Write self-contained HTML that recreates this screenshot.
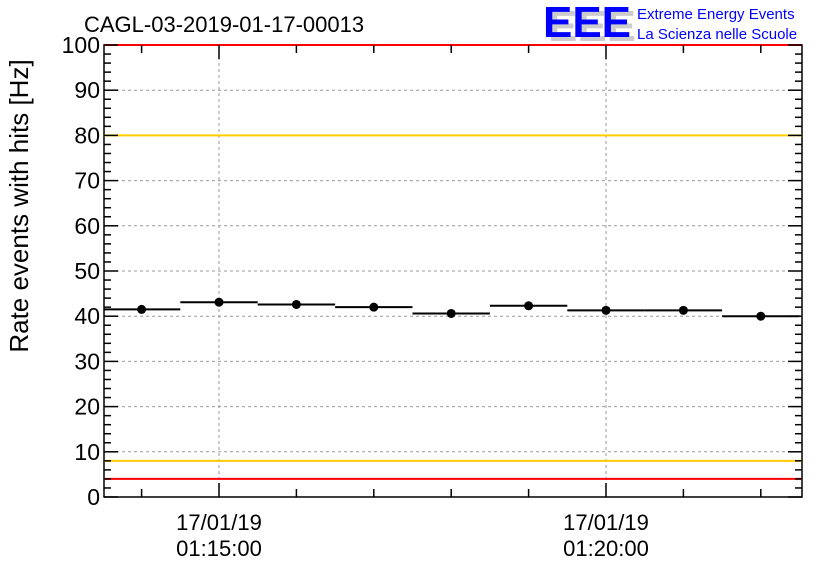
<!DOCTYPE html>
<html><head><meta charset="utf-8"><style>body{margin:0;background:#fff}svg{display:block;font-family:"Liberation Sans",sans-serif}</style></head>
<body>
<svg id="c" width="836" height="572"></svg>
<script>
const binMinutes=[-1,0,1,2,3,4,5,6,7];
const rates=[41.5,43.1,42.6,42.0,40.6,42.3,41.3,41.3,40.0];
const yTicks=[0,10,20,30,40,50,60,70,80,90,100];
const xMajorLabels=[[0,"17/01/19","01:15:00"],[5,"17/01/19","01:20:00"]];
const refLines=[[100,"#ff0000"],[80,"#ffcc00"],[8,"#ffcc00"],[4,"#ff0000"]];
const L=104,R=802,T=45,B=497;
const X=m=>219+m*77.4;
const Y=v=>B-(v/100)*(B-T);
const s=document.getElementById('c');const NS="http://www.w3.org/2000/svg";
function el(t,a,n,txt){const e=document.createElementNS(NS,t);for(const k in a)e.setAttribute(k,a[k]);if(txt)e.textContent=txt;s.appendChild(e);return e;}
// grid
yTicks.forEach(v=>{if(v>0&&v<100)el('line',{x1:L,x2:R,y1:Y(v),y2:Y(v),stroke:'#999','stroke-dasharray':'3,3','stroke-width':1},'y-gridline');});
xMajorLabels.forEach(d=>el('line',{x1:X(d[0]),x2:X(d[0]),y1:T,y2:B,stroke:'#999','stroke-dasharray':'3,3'},'x-gridline'));
// frame
el('rect',{x:L,y:T,width:R-L,height:B-T,fill:'none',stroke:'#000','stroke-width':1.5},'plot-frame');
// ref lines
refLines.forEach(r=>el('line',{x1:L,x2:R,y1:Y(r[0]),y2:Y(r[0]),stroke:r[1],'stroke-width':2},'threshold-line'));
// y ticks
for(let v=0;v<=100;v+=2){const mj=v%10==0,len=mj?14:7;
el('line',{x1:L,x2:L+len,y1:Y(v),y2:Y(v),stroke:'#000','stroke-width':1.5},'y-tick');
el('line',{x1:R-len,x2:R,y1:Y(v),y2:Y(v),stroke:'#000','stroke-width':1.5},'y-tick-right');}
yTicks.forEach(v=>el('text',{x:L-4,y:Y(v)+8,'text-anchor':'end','font-size':23},'y-tick-label',String(v)));
// x ticks
for(let m=-1;m<=7;m++){const mj=m%5==0,len=mj?14:8;
el('line',{x1:X(m),x2:X(m),y1:B-len,y2:B,stroke:'#000','stroke-width':1.5},'x-tick');
el('line',{x1:X(m),x2:X(m),y1:T,y2:T+len,stroke:'#000','stroke-width':1.5},'x-tick-top');}
xMajorLabels.forEach(d=>{el('text',{x:X(d[0]),y:530,'text-anchor':'middle','font-size':22},'x-date-label',d[1]);el('text',{x:X(d[0]),y:556,'text-anchor':'middle','font-size':22},'x-time-label',d[2]);});
// data
rates.forEach((v,i)=>{const c=X(binMinutes[i]);
el('line',{x1:Math.max(L,c-38.7),x2:Math.min(R,c+38.7),y1:Y(v),y2:Y(v),stroke:'#000','stroke-width':2},'rate-bin');
el('circle',{cx:c,cy:Y(v),r:4.5,fill:'#000'},'rate-point');});
el('text',{x:28,y:206,'text-anchor':'middle','font-size':26,transform:'rotate(-90 28 206)'},'y-axis-title','Rate events with hits [Hz]');
el('text',{x:84,y:32,'font-size':22},'chart-title','CAGL-03-2019-01-17-00013');
el('text',{x:548,y:41,'font-size':44,'font-weight':'bold',fill:'#ccc',textLength:88,lengthAdjust:'spacingAndGlyphs'},'logo-shadow','EEE');
el('text',{x:543,y:37,'font-size':44,'font-weight':'bold',fill:'#0000ff',textLength:88,lengthAdjust:'spacingAndGlyphs'},'logo','EEE');
el('text',{x:637,y:19,'font-size':15,fill:'#0000ff'},'logo-line1','Extreme Energy Events');
el('text',{x:637,y:39,'font-size':15,fill:'#0000ff'},'logo-line2','La Scienza nelle Scuole');
</script>
</body></html>
